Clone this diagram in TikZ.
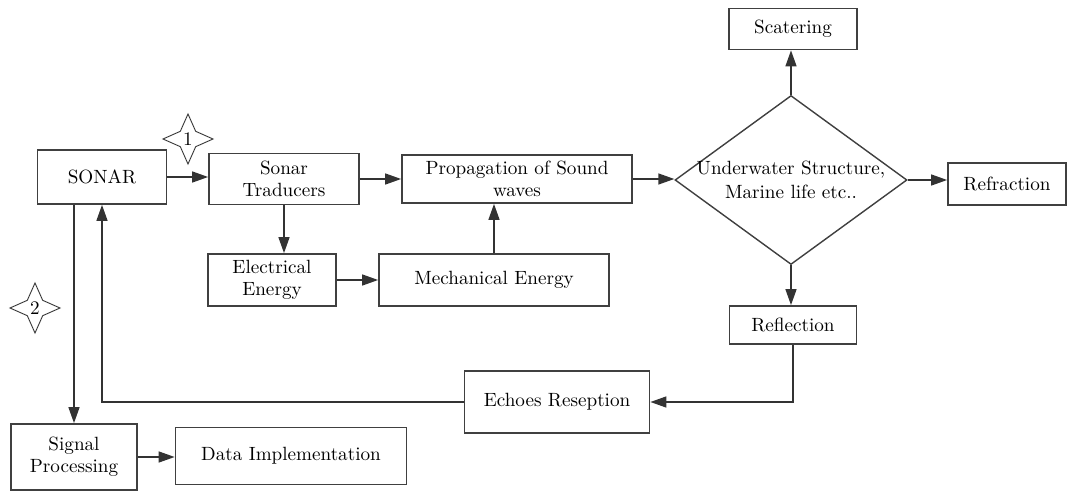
\documentclass[tikz,border=0pt]{standalone}
\usetikzlibrary{shapes.geometric, arrows.meta}

\begin{document}
\begin{tikzpicture}[
squarednode/.style={rectangle, draw=black!75, fill=white, line width=1pt, align=center, inner sep=2pt, font=\fontsize{10.9}{12.5}\selectfont},
decisionnode/.style={diamond, draw=black!75, fill=white, line width=0.8pt, align=center, inner sep=0pt, inner xsep=-0.3cm, aspect=1.37, font=\fontsize{10.9}{13.5}\selectfont},
starnode/.style={star, star points=4, star point ratio=2.3, draw=black!80, line width=0.5pt, minimum size=1cm, inner sep=0pt, font=\fontsize{10.9}{12.5}\selectfont},
arrowline/.style={-{Triangle[length=3.2mm, width=2.2mm]}, draw=black!80, line width=0.8pt}
]
\useasboundingbox (0,0) rectangle (21.34,-9.88);
%Nodes
\node[squarednode, minimum width=2.58cm, minimum height=1.08cm] (sonar_node) at (2.04,-3.54) {SONAR};
\node[squarednode, minimum width=3.0cm, minimum height=1.02cm] (traducers_node) at (5.68,-3.58) {Sonar\\Traducers};
\node[squarednode, minimum width=4.6cm, minimum height=0.96cm] (propagation_node) at (10.34,-3.58) {Propagation of Sound\\waves};
\node[decisionnode, minimum width=4.64cm, minimum height=3.38cm] (structure_node) at (15.82,-3.6) {Underwater Structure,\\Marine life etc..};
\node[squarednode, minimum width=2.56cm, minimum height=0.82cm] (scatering_node) at (15.86,-0.58) {Scatering};
\node[squarednode, minimum width=2.36cm, minimum height=0.84cm] (refraction_node) at (20.14,-3.68) {Refraction};
\node[squarednode, minimum width=2.56cm, minimum height=1.04cm] (electrical_node) at (5.44,-5.6) {Electrical\\Energy};
\node[squarednode, minimum width=4.6cm, minimum height=1.04cm] (mechanical_node) at (9.88,-5.6) {Mechanical Energy};
\node[squarednode, minimum width=2.54cm, minimum height=0.76cm] (reflection_node) at (15.86,-6.5) {Reflection};
\node[squarednode, minimum width=3.7cm, minimum height=1.24cm] (echoes_node) at (11.14,-8.04) {Echoes Reseption};
\node[squarednode, minimum width=2.52cm, minimum height=1.32cm] (signal_node) at (1.48,-9.14) {Signal\\Processing};
\node[squarednode, minimum width=4.62cm, minimum height=1.14cm] (data_node) at (5.82,-9.12) {Data Implementation};

\node[starnode] (star_one_node) at (3.76,-2.78) {1};
\node[starnode] (star_two_node) at (0.7,-6.16) {2};

%Lines
\draw[arrowline] (sonar_node.east) -- (sonar_node.east -| traducers_node.west);
\draw[arrowline] (traducers_node.east) -- (traducers_node.east -| propagation_node.west);
\draw[arrowline] (propagation_node.east) -- (propagation_node.east -| structure_node.west);
\draw[arrowline] (traducers_node.south) -- (traducers_node.south |- electrical_node.north);
\draw[arrowline] (electrical_node.east) -- (mechanical_node.west);
\draw[arrowline] (mechanical_node.north) -- (mechanical_node.north |- propagation_node.south);
\draw[arrowline] (structure_node.north) -- (structure_node.north |- scatering_node.south);
\draw[arrowline] (structure_node.east) -- (structure_node.east -| refraction_node.west);
\draw[arrowline] (structure_node.south) -- (structure_node.south |- reflection_node.north);
\draw[arrowline] (reflection_node.south) |- (echoes_node.east);
\draw[arrowline] (echoes_node.west) -| (sonar_node.south);
\draw[arrowline] (sonar_node.south -| signal_node.north) -- (signal_node.north);
\draw[arrowline] (signal_node.east) -- (signal_node.east -| data_node.west);

\end{tikzpicture}
\end{document}
